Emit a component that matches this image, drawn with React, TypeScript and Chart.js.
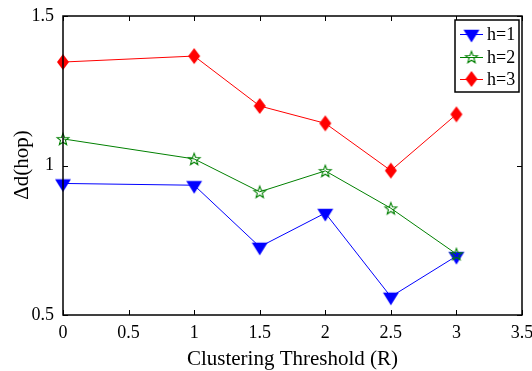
import { useEffect, useRef } from "react";
import { Chart, registerables } from "chart.js";
Chart.register(...registerables);

const xValues = [0, 1, 1.5, 2, 2.5, 3];
const h1Values = [0.94, 0.934, 0.728, 0.841, 0.561, 0.697];
const h2Values = [1.089, 1.022, 0.912, 0.982, 0.857, 0.704];
const h3Values = [1.346, 1.366, 1.199, 1.141, 0.983, 1.171];
const seriesLabels = ["h=1", "h=2", "h=3"];
const seriesColors = ["#0000ff", "#008000", "#ff0000"];
const xTitle = "Clustering Threshold (R)";
const yTitle = "\u0394d(hop)";
const xTicks = [0, 0.5, 1, 1.5, 2, 2.5, 3, 3.5];
const yTicks = [0.5, 1, 1.5];

const FONT = '"Liberation Serif", "Times New Roman", serif';

function makeTriangle(color: string) {
  const c = document.createElement("canvas");
  c.width = 18;
  c.height = 18;
  const g = c.getContext("2d")!;
  g.fillStyle = color;
  g.beginPath();
  g.moveTo(1, 4.7);
  g.lineTo(17, 4.7);
  g.lineTo(9, 17.5);
  g.closePath();
  g.fill();
  return c;
}
function makeDiamond(color: string) {
  const c = document.createElement("canvas");
  c.width = 14;
  c.height = 18;
  const g = c.getContext("2d")!;
  g.fillStyle = color;
  g.beginPath();
  g.moveTo(7, 1);
  g.lineTo(13, 9);
  g.lineTo(7, 17);
  g.lineTo(1, 9);
  g.closePath();
  g.fill();
  return c;
}
function makeStar(color: string) {
  const c = document.createElement("canvas");
  c.width = 16;
  c.height = 16;
  const g = c.getContext("2d")!;
  g.strokeStyle = color;
  g.lineWidth = 1.1;
  g.beginPath();
  const cx = 8, cy = 8.6, ro = 6.2, ri = 2.6;
  for (let i = 0; i < 10; i++) {
    const r = i % 2 === 0 ? ro : ri;
    const a = -Math.PI / 2 + (i * Math.PI) / 5;
    const px = cx + r * Math.cos(a);
    const py = cy + r * Math.sin(a);
    if (i === 0) g.moveTo(px, py);
    else g.lineTo(px, py);
  }
  g.closePath();
  g.stroke();
  return c;
}

export default function App() {
  const ref = useRef<HTMLCanvasElement>(null);
  useEffect(() => {
    const markers = [
      makeTriangle(seriesColors[0]),
      makeStar(seriesColors[1]),
      makeDiamond(seriesColors[2]),
    ];
    const framePlugin = {
      id: "frame",
      afterDatasetsDraw(chart: any) {
        const ctx = chart.ctx;
        const { left, right, top, bottom } = chart.chartArea;
        const xs = chart.scales.x;
        const ys = chart.scales.y;
        ctx.save();
        ctx.strokeStyle = "#000";
        ctx.lineWidth = 1.5;
        ctx.strokeRect(left, top, right - left, bottom - top);
        ctx.lineWidth = 1;
        ctx.beginPath();
        const tl = 5;
        xTicks.forEach((v) => {
          const px = Math.round(xs.getPixelForValue(v)) + 0.5;
          ctx.moveTo(px, bottom);
          ctx.lineTo(px, bottom - tl);
          ctx.moveTo(px, top);
          ctx.lineTo(px, top + tl);
        });
        yTicks.forEach((v) => {
          const py = Math.round(ys.getPixelForValue(v)) + 0.5;
          ctx.moveTo(left, py);
          ctx.lineTo(left + tl, py);
          ctx.moveTo(right, py);
          ctx.lineTo(right - tl, py);
        });
        ctx.stroke();

        // titles
        ctx.fillStyle = "#000";
        ctx.font = `21px ${FONT}`;
        ctx.textAlign = "center";
        ctx.textBaseline = "alphabetic";
        ctx.fillText(xTitle, (left + right) / 2, 365);
        ctx.save();
        ctx.translate(28, 165);
        ctx.rotate(-Math.PI / 2);
        ctx.fillText(yTitle, 0, 0);
        ctx.restore();

        // legend
        const lx = 455, ly = 20, lw = 64, lh = 72;
        ctx.fillStyle = "#fff";
        ctx.fillRect(lx, ly, lw, lh);
        ctx.strokeStyle = "#000";
        ctx.lineWidth = 1.5;
        ctx.strokeRect(lx, ly, lw, lh);
        const rowsY = [34, 57, 79];
        ctx.font = `18px ${FONT}`;
        ctx.textAlign = "left";
        ctx.textBaseline = "middle";
        seriesLabels.forEach((lab, i) => {
          const y = rowsY[i];
          ctx.strokeStyle = seriesColors[i];
          ctx.lineWidth = 1;
          ctx.beginPath();
          ctx.moveTo(460, y + 0.5);
          ctx.lineTo(483, y + 0.5);
          ctx.stroke();
          const m = markers[i];
          ctx.drawImage(m, 471.5 - m.width / 2, y - m.height / 2);
          ctx.fillStyle = "#000";
          ctx.fillText(lab, 487, y + 1);
        });
        ctx.restore();
      },
    };

    const chart = new Chart(ref.current!, {
      type: "line",
      data: {
        datasets: [h1Values, h2Values, h3Values].map((vals, i) => ({
          label: seriesLabels[i],
          data: xValues.map((x, j) => ({ x, y: vals[j] })),
          borderColor: seriesColors[i],
          backgroundColor: seriesColors[i],
          borderWidth: 1,
          pointStyle: markers[i] as any,
          pointRadius: 7,
          tension: 0,
          fill: false,
          clip: false as any,
          order: 3 - i,
        })),
      },
      options: {
        animation: false,
        responsive: false,
        events: [],
        layout: { padding: { top: 16, right: 10, left: 0, bottom: 0 } },
        plugins: { legend: { display: false }, tooltip: { enabled: false } },
        scales: {
          x: {
            type: "linear",
            min: 0,
            max: 3.5,
            afterBuildTicks: (s: any) => {
              s.ticks = xTicks.map((v) => ({ value: v }));
            },
            afterFit: (s: any) => {
              s.height = 56;
              s.paddingLeft = 0;
              s.paddingRight = 0;
            },
            grid: { display: false, drawTicks: false },
            border: { display: false },
            ticks: {
              color: "#000",
              font: { family: FONT, size: 18 },
              padding: 7,
              maxRotation: 0,
              autoSkip: false,
              callback: (v: any) => String(v),
            },
          },
          y: {
            type: "linear",
            min: 0.5,
            max: 1.5,
            afterBuildTicks: (s: any) => {
              s.ticks = yTicks.map((v) => ({ value: v }));
            },
            afterFit: (s: any) => {
              s.width = 63;
              s.paddingTop = 0;
              s.paddingBottom = 0;
            },
            grid: { display: false, drawTicks: false },
            border: { display: false },
            ticks: {
              color: "#000",
              font: { family: FONT, size: 18 },
              padding: 9,
              callback: (v: any) => String(v),
            },
          },
        },
      },
      plugins: [framePlugin],
    });
    return () => chart.destroy();
  }, []);
  return (
    <div style={{ position: "absolute", left: 0, top: 0, width: 532, height: 371, background: "#fff" }}>
      <canvas ref={ref} width={532} height={371} style={{ display: "block" }} />
    </div>
  );
}
